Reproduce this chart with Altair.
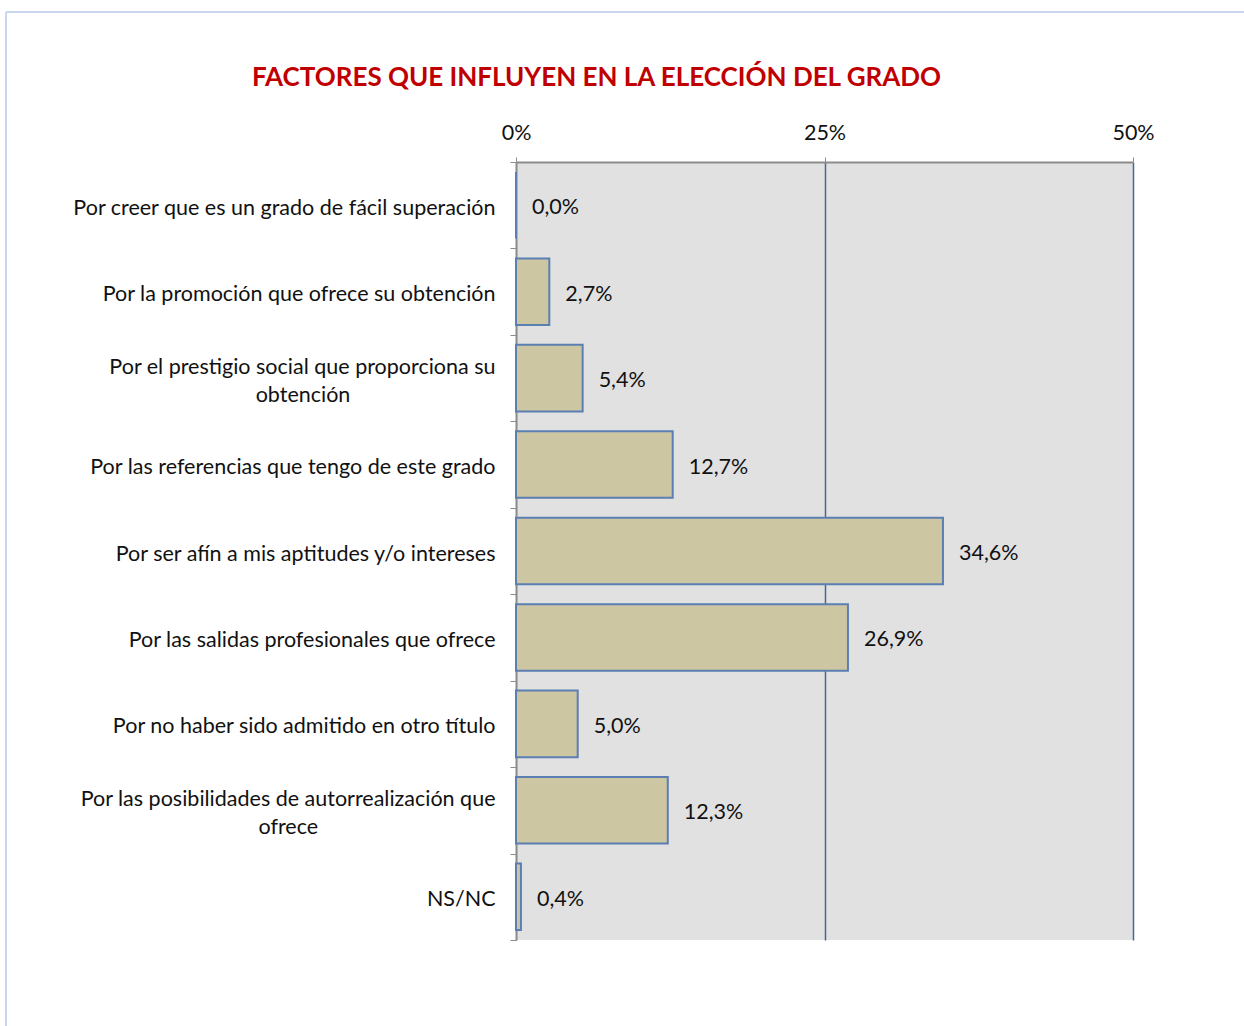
import altair as alt
import pandas as pd

categories = [
    "Por creer que es un grado de fácil superación",
    "Por la promoción que ofrece su obtención",
    "Por el prestigio social que proporciona su|obtención",
    "Por las referencias que tengo de este grado",
    "Por ser afín a mis aptitudes y/o intereses",
    "Por las salidas profesionales que ofrece",
    "Por no haber sido admitido en otro título",
    "Por las posibilidades de autorrealización que|ofrece",
    "NS/NC",
]
values = [0.0, 2.7, 5.4, 12.7, 34.6, 26.9, 5.0, 12.3, 0.4]
x_ticks = [0, 25, 50]
title_text = "FACTORES QUE INFLUYEN EN LA ELECCIÓN DEL GRADO"

FONT = "Lato"
FS = 21.5

# trailing blank space (closed by a word joiner so it is not dropped)
# keeps the second line of a wrapped label centred under the first
EM, WJ = "\u2003", "\u2060"
second_line_pad = {2: EM * 9 + WJ, 7: EM * 11 + WJ}
display = [c + second_line_pad.get(i, "") for i, c in enumerate(categories)]

df = pd.DataFrame({"cat": display, "val": values})

y_enc = alt.Y(
    "cat:N",
    sort=display,
    title=None,
    scale=alt.Scale(paddingInner=0, paddingOuter=0),
    axis=alt.Axis(
        orient="left",
        tickBand="extent",
        tickSize=6,
        tickColor="#8c8c8c",
        domainColor="#8c8c8c",
        domainWidth=1.5,
        labelExpr=(
            "indexof(datum.label, '|') >= 0 ? "
            "[split(datum.label, '|')[0], '\u2800', split(datum.label, '|')[1]] : "
            "['\u00a0', datum.label]"
        ),
        labelFont=FONT,
        labelFontSize=FS,
        labelColor="#111111",
        labelLineHeight=14,
        labelOffset=-11,
        labelLimit=700,
        labelPadding=15,
        grid=False,
    ),
)

x_enc = alt.X(
    "val:Q",
    title=None,
    scale=alt.Scale(domain=[0, 50], nice=False),
    axis=alt.Axis(
        orient="top",
        values=x_ticks,
        labelExpr="datum.value + '%'",
        labelFont=FONT,
        labelFontSize=FS,
        labelColor="#111111",
        labelPadding=13,
        labelFlush=False,
        tickSize=5,
        tickColor="#8c8c8c",
        domainColor="#8c8c8c",
        domainWidth=2,
        grid=True,
        gridColor="#4a6794",
        gridWidth=1.5,
        gridOpacity=1,
    ),
)

base = alt.Chart(df)

bars = base.mark_bar(
    fill="#cdc6a2", stroke="#5b7fb3", strokeWidth=2, height={"band": 0.77}
).encode(x=x_enc, y=y_enc)

labels = base.transform_calculate(
    lab="replace(format(datum.val, '.1f'), '.', ',') + '%'"
).mark_text(
    align="left", baseline="middle", dx=16, dy=3, font=FONT, fontSize=FS, color="#111111"
).encode(x="val:Q", y=alt.Y("cat:N", sort=display), text="lab:N")

# light frame around the chart area (top and left edges, as in the original)
frame_df = pd.DataFrame({"k": [0]})
frame_v = alt.Chart(frame_df).mark_rule(color="#c9d7ee", strokeWidth=2).encode(
    x=alt.value(-510), y=alt.value(-150), y2=alt.value(880)
)
frame_h = alt.Chart(frame_df).mark_rule(color="#c9d7ee", strokeWidth=2).encode(
    x=alt.value(-510), x2=alt.value(740), y=alt.value(-150)
)

chart = (
    alt.layer(bars, labels, frame_v, frame_h)
    .properties(
        width=617,
        height=778,
        autosize=alt.AutoSizeParams(type="none"),
        padding={"left": 516, "top": 162, "right": 111, "bottom": 86},
        title=alt.TitleParams(
            text=title_text,
            font=FONT,
            fontSize=26,
            fontWeight="bold",
            color="#c00000",
            anchor="middle",
            frame="group",
            dx=-228,
            offset=-80,
        ),
        background="white",
    )
    .configure_view(fill="#e1e1e1", strokeWidth=0)
)

chart.save("out.html", embed_options={"renderer": "svg", "actions": False})
